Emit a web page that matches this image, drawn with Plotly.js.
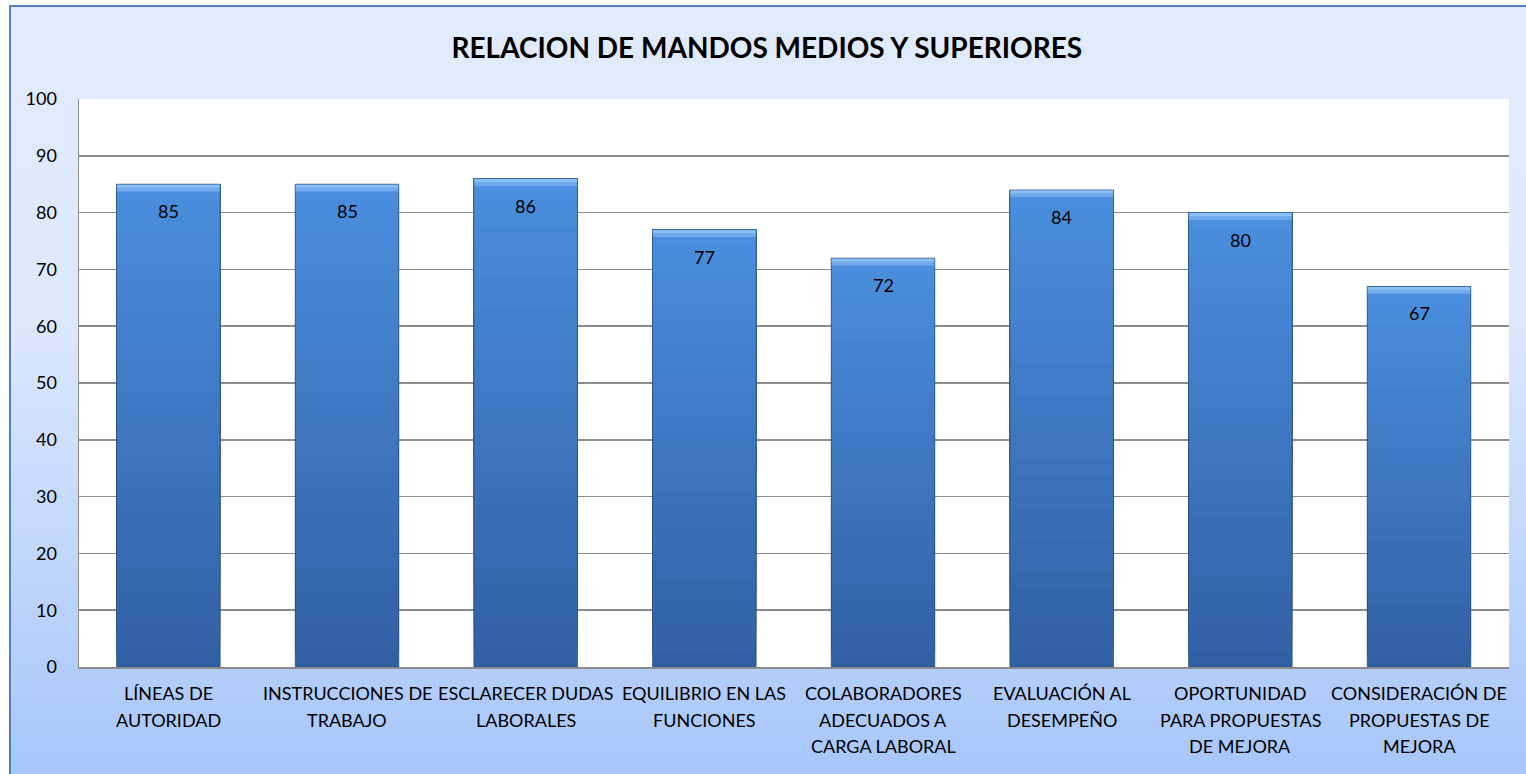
<!DOCTYPE html>
<html>
<head>
<meta charset="utf-8">
<script src="https://cdn.plot.ly/plotly-3.0.1.min.js"></script>
<style>
  html, body { margin:0; padding:0; width:1526px; height:774px; overflow:hidden; background:#ffffff; }
  #frame { position:absolute; left:9px; top:5px; width:1530px; height:780px;
    border-left:2px solid #4F81BD; border-top:2px solid #4F81BD;
    background:linear-gradient(to bottom, #E1EBFD 0%, #DCE8FD 40%, #A6C5FA 100%); }
  #chart { position:absolute; left:0; top:0; width:1526px; height:774px; }
</style>
</head>
<body>
<div id="frame"></div>
<div id="chart"></div>
<script>
const titleText = "RELACION DE MANDOS MEDIOS Y SUPERIORES";
const categories = [
  "LÍNEAS DE<br>AUTORIDAD",
  "INSTRUCCIONES DE<br>TRABAJO",
  "ESCLARECER DUDAS<br>LABORALES",
  "EQUILIBRIO EN LAS<br>FUNCIONES",
  "COLABORADORES<br>ADECUADOS A<br>CARGA LABORAL",
  "EVALUACIÓN AL<br>DESEMPEÑO",
  "OPORTUNIDAD<br>PARA PROPUESTAS<br>DE MEJORA",
  "CONSIDERACIÓN DE<br>PROPUESTAS DE<br>MEJORA"
];
const values = [85, 85, 86, 77, 72, 84, 80, 67];
const yTicks = [0, 10, 20, 30, 40, 50, 60, 70, 80, 90, 100];

const FONT = "Lato, 'Open Sans', sans-serif";
const topColor = [74, 142, 221];
const botColor = [50, 96, 164];
const N = 30;
const traces = [];
function mix(t) {
  const c = botColor.map((b, i) => Math.round(b + (topColor[i] - b) * t));
  return `rgb(${c[0]},${c[1]},${c[2]})`;
}
for (let k = 0; k < N; k++) {
  traces.push({
    type: 'bar', x: categories,
    base: values.map(v => v * k / N),
    y: values.map(v => v - v * k / N),
    marker: { color: mix(k / (N - 1)), line: { width: 0 } },
    hoverinfo: 'skip', showlegend: false
  });
}
// bevel highlight at the top of each bar
traces.push({
  type: 'bar', x: categories,
  base: values.map(v => v - 1.3),
  y: values.map(() => 1.3),
  marker: { color: 'rgb(112,170,236)', line: { width: 0 } },
  hoverinfo: 'skip', showlegend: false
});
traces.push({
  type: 'bar', x: categories,
  base: values.map(v => v - 0.6),
  y: values.map(() => 0.6),
  marker: { color: 'rgb(140,192,245)', line: { width: 0 } },
  hoverinfo: 'skip', showlegend: false
});
// thin dark outline
traces.push({
  type: 'bar', x: categories, y: values,
  marker: { color: 'rgba(0,0,0,0)', line: { width: 1, color: 'rgba(30,60,110,0.6)' } },
  hoverinfo: 'skip', showlegend: false
});

const annotations = categories.map((c, i) => ({
  x: c, y: values[i], xref: 'x', yref: 'y', text: String(values[i]),
  showarrow: false, yanchor: 'middle', yshift: -27,
  font: { family: FONT, size: 18, color: '#000000' }
}));
// category labels, one annotation per text line for Excel-like line spacing
categories.forEach(c => {
  c.split('<br>').forEach((line, j) => {
    annotations.push({
      x: c, y: 0, xref: 'x', yref: 'paper', text: line,
      showarrow: false, yanchor: 'middle', yshift: -26 - 26.5 * j,
      font: { family: FONT, size: 18, color: '#000000' }
    });
  });
});

const layout = {
  width: 1526, height: 774,
  margin: { l: 79, r: 17, t: 99, b: 107 },
  paper_bgcolor: 'rgba(0,0,0,0)',
  plot_bgcolor: '#ffffff',
  barmode: 'overlay',
  bargap: 0.42,
  title: { text: '<b>' + titleText + '</b>', x: 0.5025, xanchor: 'center', y: 0.938, yanchor: 'middle',
           font: { family: FONT, size: 28, color: '#000000' } },
  xaxis: {
    type: 'category', showgrid: false, showline: true, linecolor: '#8C8C8C', linewidth: 1.5,
    ticks: '', showticklabels: false, fixedrange: true
  },
  yaxis: {
    range: [0, 100], tickvals: yTicks, ticktext: yTicks.map(String),
    showgrid: true, gridcolor: '#8C8C8C', gridwidth: 1.5,
    showline: true, linecolor: '#8C8C8C', linewidth: 1.5, zeroline: false,
    ticks: '', ticklabelstandoff: 17,
    tickfont: { family: FONT, size: 18, color: '#000000' }, fixedrange: true
  },
  annotations: annotations,
  font: { family: FONT }
};
Plotly.newPlot('chart', traces, layout, { displayModeBar: false, staticPlot: true });
</script>
</body>
</html>
